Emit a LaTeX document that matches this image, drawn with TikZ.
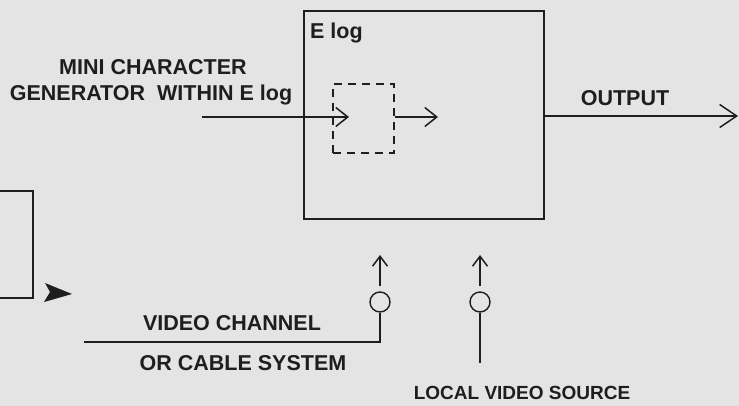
\documentclass[tikz,border=0pt]{standalone}
\usepackage{fontspec}
\setmainfont{Liberation Sans}
\usetikzlibrary{arrows.meta}
\definecolor{bg}{HTML}{E4E4E4}
\definecolor{ink}{HTML}{1E1E1E}
\tikzset{
  ln/.style={draw=ink, line width=1.8pt},
  lbl/.style={text=ink, font=\fontsize{21.5}{24}\selectfont\bfseries, inner sep=0pt},
  smalllbl/.style={text=ink, font=\fontsize{19}{22}\selectfont\bfseries, inner sep=0pt},
  openarrow/.style={-{Straight Barb[length=12pt,width=19pt,line width=1.5pt]}},
  bigarrow/.style={-{Straight Barb[length=17pt,width=23pt,line width=1.5pt]}},
  vertarrow/.style={-{Straight Barb[length=10pt,width=15pt,line width=1.5pt]}},
  plug/.style={circle, draw=ink, line width=1.4pt, minimum size=20pt, inner sep=0pt},
}
\begin{document}
\begin{tikzpicture}[x=1pt,y=-1pt]
  \fill[bg] (0,0) rectangle (739,406);
  \useasboundingbox (0,0) rectangle (739,406);

  % main E log box
  \node[ln, rectangle, minimum width=240pt, minimum height=208pt, inner sep=0pt, anchor=north west] (elog) at (303,10) {};
  \node[lbl, anchor=west] (elogtxt) at (310,33) {E log};

  % dashed inner box
  \node[draw=ink, line width=1.6pt, dash pattern=on 8pt off 6pt, rectangle,
        minimum width=61pt, minimum height=69pt, inner sep=0pt, anchor=north west] (mini) at (332,83) {};

  % input arrow
  \coordinate (inA) at (202,117);
  \coordinate (inB) at (349,117);
  \draw[ln, openarrow] (inA) -- (inB);
  \coordinate (midA) at (395,117);
  \coordinate (midB) at (438,117);
  \draw[ln, openarrow] (midA) -- (midB);

  % output
  \coordinate (outEnd) at (738,116);
  \draw[ln, bigarrow] (elog.east |- outEnd) -- (outEnd);
  \node[lbl] (outtxt) at (625,98) {OUTPUT};

  % labels
  \node[lbl] (minitxt1) at (153,67) {MINI CHARACTER};
  \node[lbl] (minitxt2) at (151,95) {GENERATOR\ \ WITHIN E log};

  % left partial box
  \coordinate (lbA) at (0,191);
  \coordinate (lbB) at (33,298);
  \draw[ln] (lbA) -| (lbB) -- (lbB -| lbA);
  % filled arrowhead
  \fill[ink] (45,283) -- (72,294) -- (44,302) -- (50,292) -- cycle;

  % video channel plug
  \node[plug] (p1) at (380,302) {};
  \coordinate (vcEnd) at (84,342);
  \draw[ln] (vcEnd) -- (vcEnd -| p1) -- (p1.south);
  \coordinate (p1top) at (380,255);
  \draw[ln, vertarrow] (380,286) -- (p1top);
  \node[lbl] (vctxt1) at (232,323) {VIDEO CHANNEL};
  \node[lbl] (vctxt2) at (243,363) {OR CABLE SYSTEM};

  % local video source plug
  \node[plug] (p2) at (480,302) {};
  \coordinate (lvEnd) at (480,363);
  \draw[ln] (p2.south) -- (lvEnd);
  \coordinate (p2top) at (480,255);
  \draw[ln, vertarrow] (480,286) -- (p2top);
  \node[smalllbl] (lvtxt) at (522,393) {LOCAL VIDEO SOURCE};
\end{tikzpicture}
\end{document}
